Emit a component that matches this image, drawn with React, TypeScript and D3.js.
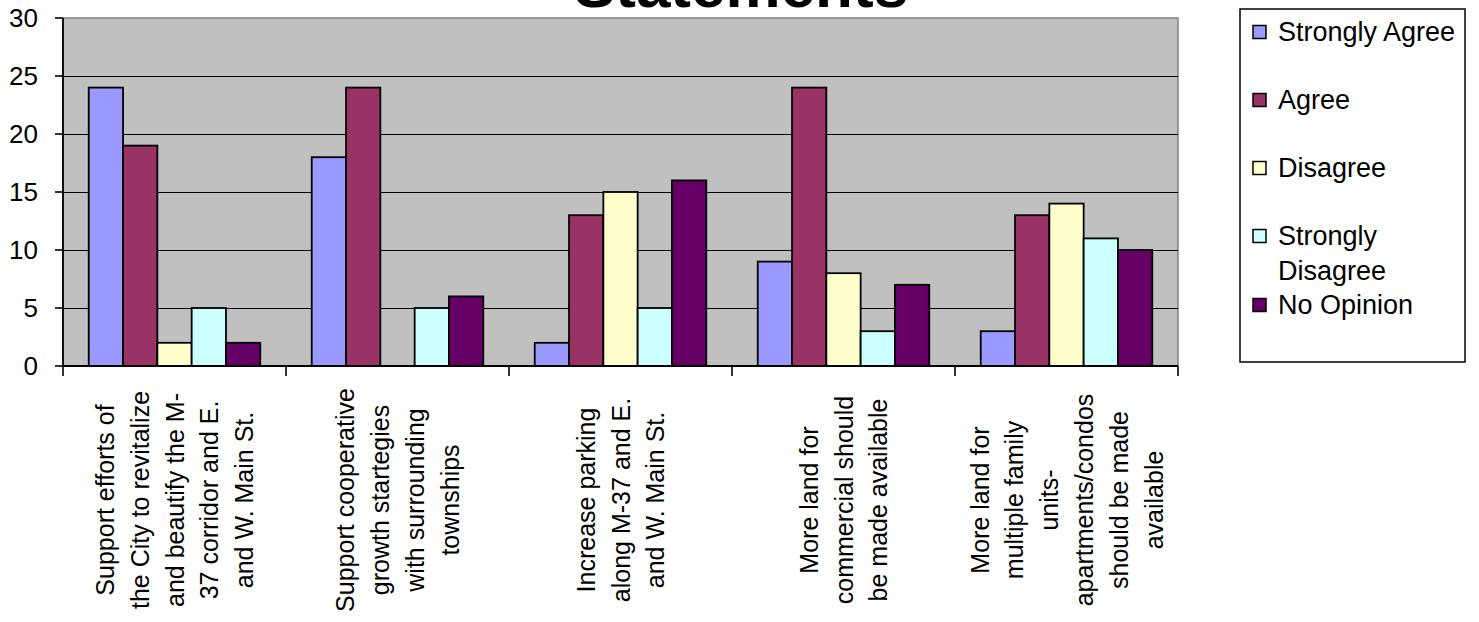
import React from "react";
import * as d3 from "d3";

const categories: string[][] = [
  ["Support efforts of", "the City to revitalize", "and beautify the M-", "37 corridor and E.", "and W. Main St."],
  ["Support cooperative", "growth startegies", "with surrounding", "townships"],
  ["Increase parking", "along M-37 and E.", "and W. Main St."],
  ["More land for", "commercial should", "be made available"],
  ["More land for", "multiple family", "units-", "apartments/condos", "should be made", "available"],
];

const seriesNames: string[][] = [["Strongly Agree"], ["Agree"], ["Disagree"], ["Strongly", "Disagree"], ["No Opinion"]];
const seriesColors = ["#9999FF", "#993366", "#FFFFCC", "#CCFFFF", "#660066"];

const stronglyAgree = [24, 18, 2, 9, 3];
const agree = [19, 24, 13, 24, 13];
const disagree = [2, 0, 15, 8, 14];
const stronglyDisagree = [5, 5, 5, 3, 11];
const noOpinion = [2, 6, 16, 7, 10];

const yTicks = [0, 5, 10, 15, 20, 25, 30];
const titleText = "Statements";

const series = [stronglyAgree, agree, disagree, stronglyDisagree, noOpinion];

export default function App() {
  const W = 1479;
  const H = 622;
  const left = 63;
  const right = 1178;
  const top = 18;
  const bottom = 366;
  const font = "'Liberation Sans', Arial, sans-serif";

  const x0 = d3.scaleBand<number>().domain(d3.range(categories.length)).range([left, right]).paddingInner(0).paddingOuter(0);
  const gw = x0.bandwidth();
  const barW = gw / (series.length + 1.5);
  const x1 = d3.scaleBand<number>().domain(d3.range(series.length)).range([(gw - barW * series.length) / 2, (gw + barW * series.length) / 2]).padding(0);
  const y = d3.scaleLinear().domain([0, 30]).range([bottom, top]);

  const legendItems: { name: string[]; color: string; y: number }[] = [];
  let ly = 32;
  seriesNames.forEach((n, i) => {
    legendItems.push({ name: n, color: seriesColors[i], y: ly });
    ly += Math.max(68, n.length * 34.5);
  });

  return (
    <svg width={W} height={H} style={{ position: "absolute", left: 0, top: 0, background: "#fff" }} fontFamily={font}>
      <text x={741} y={7} textAnchor="middle" fontSize={62} fontWeight="bold" fill="#000">{titleText}</text>
      <rect x={left} y={top} width={right - left} height={bottom - top} fill="#C0C0C0" stroke="#808080" strokeWidth={1.5} />
      {yTicks.filter((t) => t > 0 && t < 30).map((t) => (
        <line key={"g" + t} x1={left} x2={right} y1={y(t) + 0.5} y2={y(t) + 0.5} stroke="#000" strokeWidth={1.6} shapeRendering="crispEdges" />
      ))}
      {categories.map((_, ci) =>
        series.map((s, si) =>
          s[ci] > 0 ? (
            <rect
              key={ci + "-" + si}
              x={(x0(ci) as number) + (x1(si) as number)}
              y={y(s[ci])}
              width={x1.bandwidth()}
              height={y(0) - y(s[ci])}
              fill={seriesColors[si]}
              stroke="#000"
              strokeWidth={1.8}
            />
          ) : null
        )
      )}
      <line x1={left} x2={left} y1={top} y2={bottom} stroke="#000" strokeWidth={1.8} />
      <line x1={left} x2={right} y1={bottom} y2={bottom} stroke="#000" strokeWidth={1.8} />
      {yTicks.map((t) => (
        <g key={"yt" + t}>
          <line x1={55} x2={left} y1={y(t)} y2={y(t)} stroke="#000" strokeWidth={1.6} />
          <text x={38} y={y(t)} textAnchor="end" dominantBaseline="central" fontSize={26} fill="#000">{t}</text>
        </g>
      ))}
      {d3.range(categories.length + 1).map((i) => {
        const xx = left + i * gw;
        return <line key={"xt" + i} x1={xx} x2={xx} y1={bottom} y2={bottom + 10} stroke="#000" strokeWidth={1.6} />;
      })}
      {categories.map((lines, ci) => {
        const cx = (x0(ci) as number) + gw / 2;
        return lines.map((ln, li) => {
          const lx = cx + (li - (lines.length - 1) / 2) * 34.8;
          return (
            <text key={ci + "l" + li} transform={`translate(${lx},500) rotate(-90)`} textAnchor="middle" dominantBaseline="central" fontSize={25} fill="#000">
              {ln}
            </text>
          );
        });
      })}
      <rect x={1240} y={9} width={225} height={353} fill="#fff" stroke="#000" strokeWidth={1.5} />
      {legendItems.map((it, i) => (
        <g key={"lg" + i}>
          <rect x={1253} y={it.y - 6.5} width={13} height={13} fill={it.color} stroke="#000" strokeWidth={1.5} />
          {it.name.map((n, j) => (
            <text key={j} x={1278} y={it.y + j * 34.5} dominantBaseline="central" fontSize={27} fill="#000">{n}</text>
          ))}
        </g>
      ))}
    </svg>
  );
}
